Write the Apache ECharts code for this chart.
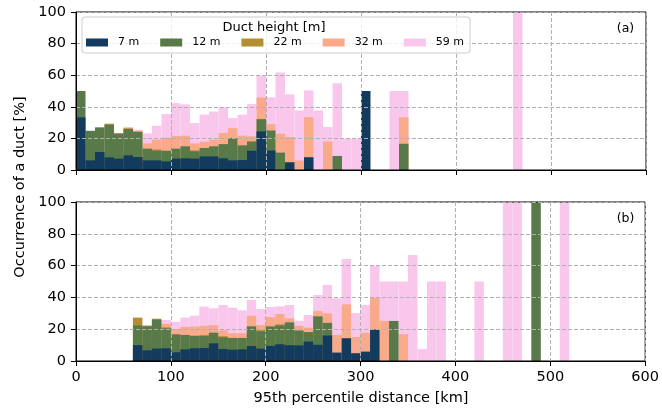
<!DOCTYPE html>
<html><head><meta charset="utf-8">
<script src="https://cdn.jsdelivr.net/npm/echarts@6/dist/echarts.min.js"></script>
<style>html,body{margin:0;padding:0;background:#fff}#c{width:662px;height:413px}</style>
</head><body><div id="c"></div><script>
// 10 km bins from 0 to 600 km
const binLabels = Array.from({length: 60}, (_, i) => String(i * 10));
const heights = ['7 m', '12 m', '22 m', '32 m', '59 m'];
const xTicks = [0, 100, 200, 300, 400, 500, 600];
const yTicks = [0, 20, 40, 60, 80, 100];

// Panel (a)
const a7 = [33.3,6.1,11.4,8.0,7.2,9.3,8.2,6.1,6.1,5.5,
  7.2,7.4,7.2,8.6,8.6,7.4,6.1,6.3,12.2,24.4,
  12.3,0,4.9,0,8.1,0,0,0,0,0,
  50,0,0,0,0,0,0,0,0,0,
  0,0,0,0,0,0,0,0,0,0,
  0,0,0,0,0,0,0,0,0,0];
const a12 = [50,24.8,27.0,28.6,22.7,25.9,24.2,13.5,12.2,12.2,
  13.5,15.0,11.8,13.9,15.0,16.4,20.2,15.6,18.1,32.2,
  25.0,11.0,0,0,0,0,0,8.9,0,0,
  0,0,0,0,16.6,0,0,0,0,0,
  0,0,0,0,0,0,0,0,0,0,
  0,0,0,0,0,0,0,0,0,0];
const a22 = [0,0,0,29.3,23.4,26.3,0,0,13.0,0,
  0,0,12.5,0,0,0,0,0,0,0,
  0,0,0,0,0,0,0,0,0,0,
  0,0,0,0,0,0,0,0,0,0,
  0,0,0,0,0,0,0,0,0,0,
  0,0,0,0,0,0,0,0,0,0];
const a32 = [0,0,0,0,0,27.0,24.8,16.8,19.2,20.4,
  21.5,21.7,16.8,17.9,19.2,23.4,26.5,21.7,21.3,45.9,
  29.0,23.0,20.9,6.0,33.4,0,18.0,0,0,0,
  0,0,0,0,33.3,0,0,0,0,0,
  0,0,0,0,0,0,0,0,0,0,
  0,0,0,0,0,0,0,0,0,0];
const a59 = [0,0,0,0,0,0,25.5,23.2,28.0,35.4,
  42.3,41.5,29.7,35.0,37.0,39.6,32.8,35.0,41.7,59.6,
  46.0,61.7,47.9,37.7,50.4,37.7,27.2,54.9,19.8,19.8,
  0,0,0,50,50,0,0,0,0,0,
  0,0,0,0,0,0,100,0,0,0,
  0,0,0,0,0,0,0,0,0,0];

// Panel (b)
const b7 = [0,0,0,0,0,0,10.0,6.7,7.8,8.0,
  5.5,7.3,8.0,8.2,11.1,7.5,7.1,7.3,9.4,7.8,
  9.5,10.5,9.9,9.8,12.2,10.2,16.0,5.3,14.3,4.9,
  5.9,19.8,0,0,0,0,0,0,0,0,
  0,0,0,0,0,0,0,0,0,0,
  0,0,0,0,0,0,0,0,0,0];
const b12 = [0,0,0,0,0,0,22.3,21.8,26.0,20.5,
  16.8,16.4,15.9,15.7,17.8,14.9,14.5,14.5,21.8,18.7,
  21.8,22.4,24.3,19.2,18.2,28.1,24.0,0,0,0,
  0,0,0,25.2,0,0,0,0,0,0,
  0,0,0,0,0,0,0,0,100,0,
  0,0,0,0,0,0,0,0,0,0];
const b22 = [0,0,0,0,0,0,27.3,22.3,26.6,21.2,
  0,0,0,16.4,0,15.6,0,0,0,19.4,
  0,23.0,0,0,0,0,0,0,0,0,
  0,0,0,0,0,0,0,0,0,0,
  0,0,0,0,0,0,0,0,0,0,
  0,0,0,0,0,0,0,0,0,0];
const b32 = [0,0,0,0,0,0,0,0,0,23.3,
  20.1,21.4,21.6,22.2,22.6,19.3,17.4,17.4,28.5,22.6,
  27.6,29.6,26.8,22.1,21.0,31.4,30.0,16.4,35.6,15.1,
  17.8,39.8,25.2,0,16.8,0,0,0,0,0,
  0,0,0,0,0,0,0,0,0,0,
  0,0,0,0,0,0,0,0,0,0];
const b59 = [0,0,0,0,0,0,0,0,0,25.8,
  24.7,27.3,28.5,34.2,33.1,35.2,33.5,31.9,38.4,32.7,
  33.9,34.3,35.2,25.3,28.9,41.5,47.8,39.4,64.2,30.1,
  35.2,59.7,50,50,50,66.7,7.5,50,50,0,
  0,0,50,0,0,100,100,0,0,0,
  0,100,0,0,0,0,0,0,0,0];

const panelA = [a7, a12, a22, a32, a59];
const panelB = [b7, b12, b22, b32, b59];
const colors = ['#133b5e', '#577a48', '#b48e33', '#f8aa8b', '#f9c6ec'];

const FONT = 'DejaVu Sans';
const gridLine = {show: true, lineStyle: {color: '#b0b0b0', width: 1, type: [4, 2]}};

function catAxis(gi) {
  return {type: 'category', gridIndex: gi, position: 'bottom', data: binLabels, show: false, boundaryGap: true};
}
function valX(gi, showLabels) {
  return {type: 'value', gridIndex: gi, position: 'bottom', min: xTicks[0], max: xTicks[xTicks.length-1], interval: 100, z: 10,
    axisLine: {show: true, onZero: false, lineStyle: {color: '#000', width: 1}},
    axisTick: {show: true, length: 5, lineStyle: {color: '#000', width: 1}},
    axisLabel: {show: showLabels, fontSize: 14.5, fontFamily: FONT, color: '#000', margin: 9},
    splitLine: gridLine};
}
function valY(gi) {
  return {type: 'value', gridIndex: gi, position: 'left', min: yTicks[0], max: yTicks[yTicks.length-1], interval: 20, z: 10,
    axisLine: {show: true, onZero: false, lineStyle: {color: '#000', width: 1}},
    axisTick: {show: true, length: 5, lineStyle: {color: '#000', width: 1}},
    axisLabel: {fontSize: 14.5, fontFamily: FONT, color: '#000', margin: 10},
    splitLine: gridLine};
}

const series = [];
[panelA, panelB].forEach((panel, p) => {
  for (let k = heights.length - 1; k >= 0; k--) {
    series.push({
      type: 'bar', name: heights[k], xAxisIndex: p * 2, yAxisIndex: p,
      data: panel[k], barWidth: '100%', barGap: '-100%',
      itemStyle: {color: colors[k]}, emphasis: {disabled: true}, silent: true
    });
  }
});

const chart = echarts.init(document.getElementById('c'), null, {renderer: 'canvas'});
chart.setOption({
  animation: false,
  backgroundColor: '#fff',
  grid: [
    {left: 76, right: 16, top: 12, height: 158, show: true, borderColor: '#000', borderWidth: 1, z: 5},
    {left: 76, right: 16, top: 202, height: 159, show: true, borderColor: '#000', borderWidth: 1, z: 5}
  ],
  xAxis: [catAxis(0), valX(0, false), catAxis(1), valX(1, true)],
  yAxis: [valY(0), valY(1)],
  legend: {
    data: heights, left: 82, top: 17, orient: 'horizontal',
    padding: [20, 6, 5, 4], itemWidth: 22, itemHeight: 8, itemGap: 21, icon: 'rect',
    textStyle: {fontSize: 11, fontFamily: FONT, color: '#000', padding: [0, 0, 0, 5]},
    borderColor: '#cccccc', borderWidth: 1, borderRadius: 3,
    backgroundColor: 'rgba(255,255,255,0.8)', selectedMode: false, z: 20
  },
  graphic: [
    {type: 'text', x: 274, y: 28, z: 30, style: {text: 'Duct height [m]', fontSize: 13, fontFamily: FONT, fill: '#000', align: 'center', verticalAlign: 'middle'}},
    {type: 'text', x: 361, y: 398, z: 30, style: {text: '95th percentile distance [km]', fontSize: 14.5, fontFamily: FONT, fill: '#000', align: 'center', verticalAlign: 'middle'}},
    {type: 'text', x: 20, y: 187, rotation: Math.PI / 2, z: 30, style: {text: 'Occurrence of a duct [%]', fontSize: 14.5, fontFamily: FONT, fill: '#000', align: 'center', verticalAlign: 'middle'}},
    {type: 'text', x: 625.5, y: 29, z: 30, style: {text: '(a)', fontSize: 12.5, fontFamily: FONT, fill: '#000', align: 'center', verticalAlign: 'middle'}},
    {type: 'text', x: 625.5, y: 219, z: 30, style: {text: '(b)', fontSize: 12.5, fontFamily: FONT, fill: '#000', align: 'center', verticalAlign: 'middle'}}
  ],
  series: series
});
</script></body></html>
